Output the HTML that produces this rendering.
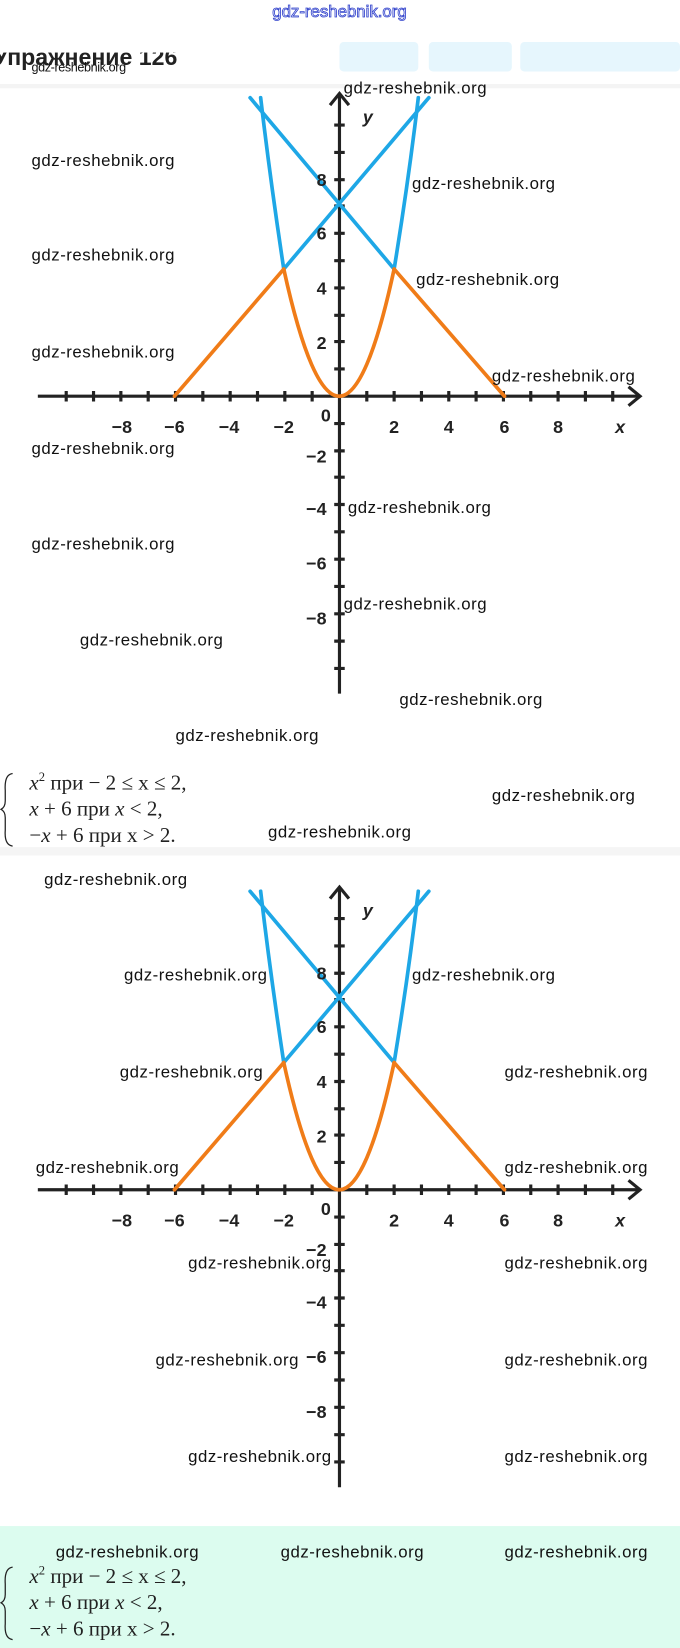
<!DOCTYPE html>
<html><head><meta charset="utf-8"><style>
html,body{margin:0;padding:0;background:#fff;}
svg{display:block;}
.w{font-family:"Liberation Sans",sans-serif;font-size:16px;fill:#111;}
.n{font-family:"Liberation Sans",sans-serif;font-size:17px;font-weight:bold;fill:#222;}
.f{font-family:"Liberation Serif",serif;font-size:20px;fill:#222;}
</style></head><body>
<svg width="680" height="1648" viewBox="0 0 647 1568" preserveAspectRatio="none" xmlns="http://www.w3.org/2000/svg">
<defs>
<g id="graph">
 <line x1="36" y1="377" x2="608" y2="377" stroke="#222" stroke-width="3"/>
 <polyline points="598,368 609,377 598,386" fill="none" stroke="#222" stroke-width="3"/>
 <line x1="323" y1="90" x2="323" y2="660" stroke="#222" stroke-width="3"/>
 <polyline points="314,100 323,89 332,100" fill="none" stroke="#222" stroke-width="3"/>
 <g stroke="#222" stroke-width="3">
  <path d="M63 372v10M89 372v10M115 372v10M141 372v10M167 372v10M193 372v10M219 372v10M245 372v10M271 372v10M297 372v10M349 372v10M375 372v10M401 372v10M427 372v10M453 372v10M479 372v10M505 372v10M531 372v10M557 372v10M583 372v10"/>
  <path d="M318 119h10M318 145h10M318 171h10M318 196h10M318 222h10M318 248h10M318 274h10M318 300h10M318 325h10M318 351h10M318 403h10M318 429h10M318 454h10M318 480h10M318 506h10M318 532h10M318 558h10M318 584h10M318 610h10M318 636h10"/>
 </g>
 <g fill="none" stroke="#1ea7e6" stroke-width="3.5" stroke-linecap="round">
  <line x1="238" y1="93" x2="375" y2="256"/>
  <line x1="270" y1="256" x2="408" y2="93"/>
  <path d="M270 256 Q257 170 248 93"/>
  <path d="M375 256 Q389 170 398 93"/>
 </g>
 <g fill="none" stroke="#f07c18" stroke-width="3.5" stroke-linecap="round" stroke-linejoin="round">
  <polyline points="166,377 270,256"/>
  <path d="M270 256 Q323 498 375 256"/>
  <polyline points="375,256 480,377"/>
 </g>
 <g class="n" text-anchor="middle">
  <text x="116" y="412">−8</text><text x="166" y="412">−6</text><text x="218" y="412">−4</text><text x="270" y="412">−2</text>
  <text x="375" y="412">2</text><text x="427" y="412">4</text><text x="480" y="412">6</text><text x="531" y="412">8</text>
  <text x="310" y="401">0</text>
  <text x="306" y="177">8</text><text x="306" y="228">6</text><text x="306" y="280">4</text><text x="306" y="332">2</text>
  <text x="301" y="440">−2</text><text x="301" y="490">−4</text><text x="301" y="542">−6</text><text x="301" y="594">−8</text>
 </g>
 <text x="590" y="412" class="n" font-style="italic" text-anchor="middle">x</text>
 <text x="350" y="117" class="n" font-style="italic" text-anchor="middle">y</text>
</g>
<g id="formula">
 <path d="M12 736 Q4 737 5 752 L5 762 Q5 768 1 770 Q5 772 5 778 L5 790 Q4 804 12 805" fill="none" stroke="#222" stroke-width="1.2"/>
 <text class="f" x="28" y="751"><tspan font-style="italic">x</tspan><tspan font-size="12" dy="-8">2</tspan><tspan dy="8"> при  − 2 ≤ x ≤ 2,</tspan></text>
 <text class="f" x="28" y="776"><tspan font-style="italic">x</tspan> + 6 при <tspan font-style="italic">x</tspan> &lt; 2,</text>
 <text class="f" x="28" y="801">−<tspan font-style="italic">x</tspan> + 6 при x &gt; 2.</text>
</g>
</defs>
<text x="323" y="16" text-anchor="middle" font-family="Liberation Sans,sans-serif" font-size="16" fill="#fff" stroke="#3344cc" stroke-width="0.8">gdz-reshebnik.org</text>
<text x="-6" y="62" font-family="Liberation Sans,sans-serif" font-size="22" font-weight="bold" fill="#222">Упражнение 126</text>
<rect x="0" y="20" width="647" height="30" fill="#fff"/>
<rect x="323" y="40" width="75" height="28" rx="4" fill="#e6f6fd"/>
<rect x="408" y="40" width="79" height="28" rx="4" fill="#e6f6fd"/>
<rect x="495" y="40" width="152" height="28" rx="4" fill="#e6f6fd"/>
<rect x="0" y="80" width="647" height="4" fill="#f4f4f4"/>
<use href="#graph"/>
<use href="#formula"/>
<rect x="0" y="806" width="647" height="8" fill="#f5f5f5"/>
<g transform="translate(0,755)"><use href="#graph"/></g>
<rect x="0" y="1452" width="647" height="116" fill="#dcfcef"/>
<g transform="translate(0,755)"><use href="#formula"/></g>
<g class="w">
<text x="30" y="68" font-size="12" textLength="90">gdz-reshebnik.org</text>
<text x="327" y="89" textLength="136">gdz-reshebnik.org</text>
<text x="30" y="158" textLength="136">gdz-reshebnik.org</text>
<text x="392" y="180" textLength="136">gdz-reshebnik.org</text>
<text x="30" y="248" textLength="136">gdz-reshebnik.org</text>
<text x="396" y="271" textLength="136">gdz-reshebnik.org</text>
<text x="30" y="340" textLength="136">gdz-reshebnik.org</text>
<text x="468" y="363" textLength="136">gdz-reshebnik.org</text>
<text x="30" y="432" textLength="136">gdz-reshebnik.org</text>
<text x="331" y="488" textLength="136">gdz-reshebnik.org</text>
<text x="30" y="523" textLength="136">gdz-reshebnik.org</text>
<text x="327" y="580" textLength="136">gdz-reshebnik.org</text>
<text x="76" y="614" textLength="136">gdz-reshebnik.org</text>
<text x="380" y="671" textLength="136">gdz-reshebnik.org</text>
<text x="167" y="705" textLength="136">gdz-reshebnik.org</text>
<text x="468" y="762" textLength="136">gdz-reshebnik.org</text>
<text x="255" y="797" textLength="136">gdz-reshebnik.org</text>
<text x="42" y="842" textLength="136">gdz-reshebnik.org</text>
<text x="118" y="933" textLength="136">gdz-reshebnik.org</text>
<text x="392" y="933" textLength="136">gdz-reshebnik.org</text>
<text x="114" y="1025" textLength="136">gdz-reshebnik.org</text>
<text x="480" y="1025" textLength="136">gdz-reshebnik.org</text>
<text x="34" y="1116" textLength="136">gdz-reshebnik.org</text>
<text x="480" y="1116" textLength="136">gdz-reshebnik.org</text>
<text x="179" y="1207" textLength="136">gdz-reshebnik.org</text>
<text x="480" y="1207" textLength="136">gdz-reshebnik.org</text>
<text x="148" y="1299" textLength="136">gdz-reshebnik.org</text>
<text x="480" y="1299" textLength="136">gdz-reshebnik.org</text>
<text x="179" y="1391" textLength="136">gdz-reshebnik.org</text>
<text x="480" y="1391" textLength="136">gdz-reshebnik.org</text>
<text x="53" y="1482" textLength="136">gdz-reshebnik.org</text>
<text x="267" y="1482" textLength="136">gdz-reshebnik.org</text>
<text x="480" y="1482" textLength="136">gdz-reshebnik.org</text>
</g>
</svg>
</body></html>
